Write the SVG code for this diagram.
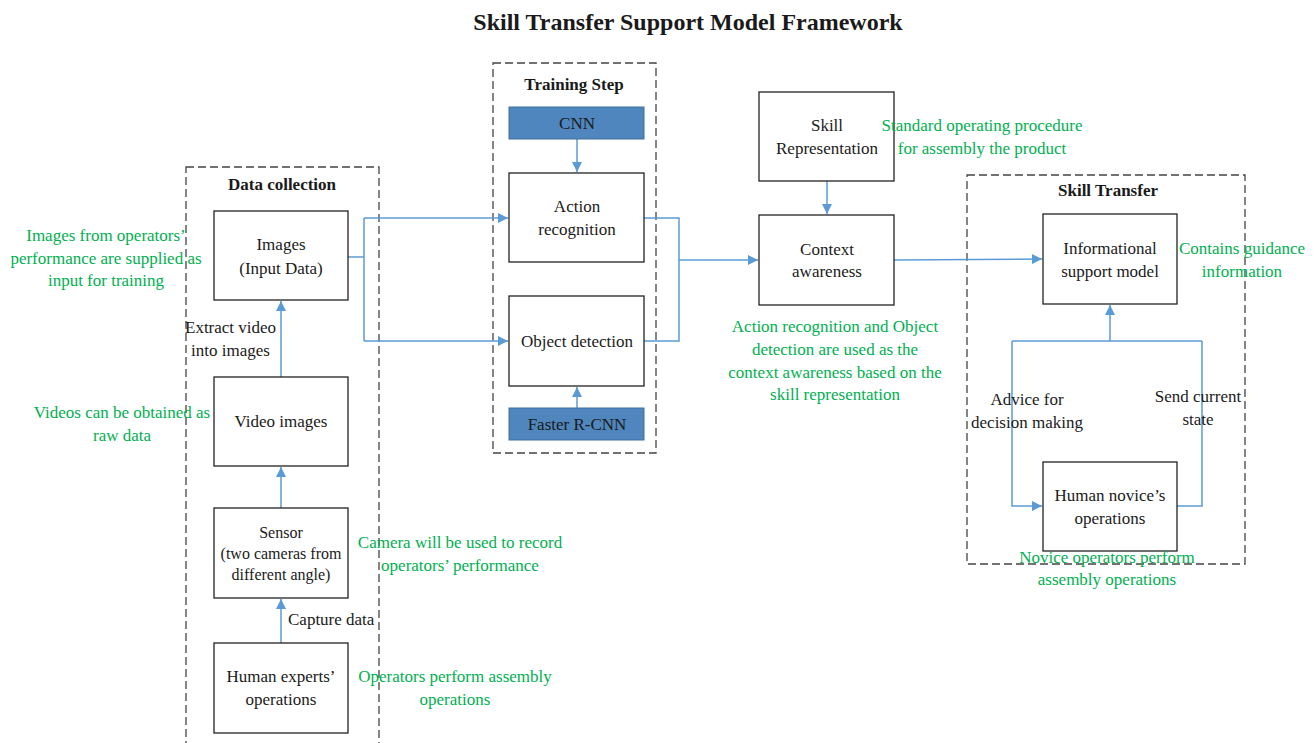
<svg xmlns="http://www.w3.org/2000/svg" width="1316" height="743" viewBox="0 0 1316 743">
  <style>
    text { font-family: "Liberation Serif", "Times New Roman", serif; font-size: 17px; fill: #1a1a1a; text-anchor: middle; }
    .title { font-size: 24px; font-weight: bold; }
    .head { font-size: 17px; font-weight: bold; }
    .note { fill: #00B050; }
    .small { font-size: 16px; }
    .left { text-anchor: start; }
    .box { fill: #ffffff; stroke: #222222; stroke-width: 1.3; }
    .model { fill: #4F86BD; stroke: #3E6F9F; stroke-width: 1; }
    .frame { fill: none; stroke: #444444; stroke-width: 1.3; stroke-dasharray: 8 4; }
    .link { fill: none; stroke: #5B9BD5; stroke-width: 1.5; }
  </style>
  <defs>
    <marker id="arrow" viewBox="0 0 10 10" refX="10" refY="5" markerWidth="10" markerHeight="10" markerUnits="userSpaceOnUse" orient="auto">
      <path d="M0,0 L10,5 L0,10 z" fill="#5B9BD5"/>
    </marker>
  </defs>
  <rect width="1316" height="743" fill="#ffffff"/>

  <text class="title" x="688" y="30">Skill Transfer Support Model Framework</text>

  <!-- grouping frames -->
  <g id="frames">
    <rect class="frame" x="186" y="167" width="193" height="590"/>
    <rect class="frame" x="493" y="63" width="163" height="390"/>
    <rect class="frame" x="967" y="175" width="278" height="389"/>
    <text class="head" x="282" y="190">Data collection</text>
    <text class="head" x="574" y="90">Training Step</text>
    <text class="head" x="1108" y="196">Skill Transfer</text>
  </g>

  <!-- connectors -->
  <g id="connectors">
    <line class="link" x1="281" y1="643" x2="281" y2="599" marker-end="url(#arrow)"/>
    <line class="link" x1="281" y1="508" x2="281" y2="467" marker-end="url(#arrow)"/>
    <line class="link" x1="281" y1="377" x2="281" y2="301" marker-end="url(#arrow)"/>
    <polyline class="link" points="348,257 364,257"/>
    <polyline class="link" points="364,218 364,341"/>
    <polyline class="link" points="364,218 508,218" marker-end="url(#arrow)"/>
    <polyline class="link" points="364,341 508,341" marker-end="url(#arrow)"/>
    <line class="link" x1="577" y1="139" x2="577" y2="172" marker-end="url(#arrow)"/>
    <line class="link" x1="577" y1="408" x2="577" y2="387" marker-end="url(#arrow)"/>
    <polyline class="link" points="644,218 679,218 679,341 644,341"/>
    <line class="link" x1="679" y1="260" x2="758" y2="260" marker-end="url(#arrow)"/>
    <line class="link" x1="827" y1="181" x2="827" y2="214" marker-end="url(#arrow)"/>
    <line class="link" x1="894" y1="260" x2="1042" y2="259" marker-end="url(#arrow)"/>
    <line class="link" x1="1110" y1="341" x2="1110" y2="305" marker-end="url(#arrow)"/>
    <polyline class="link" points="1012,341 1202,341"/>
    <polyline class="link" points="1012,341 1012,506 1042,506" marker-end="url(#arrow)"/>
    <polyline class="link" points="1177,506 1202,506 1202,341"/>
  </g>

  <!-- data collection nodes -->
  <g id="images">
    <rect class="box" x="214" y="211" width="134" height="89"/>
    <text x="281" y="250">Images</text>
    <text x="281" y="274">(Input Data)</text>
  </g>
  <g id="video-images">
    <rect class="box" x="214" y="377" width="134" height="89"/>
    <text x="281" y="427">Video images</text>
  </g>
  <g id="sensor">
    <rect class="box" x="214" y="508" width="134" height="90"/>
    <text class="small" x="281" y="538">Sensor</text>
    <text class="small" x="281" y="559">(two cameras from</text>
    <text class="small" x="281" y="580">different angle)</text>
  </g>
  <g id="human-experts">
    <rect class="box" x="214" y="643" width="134" height="90"/>
    <text x="281" y="682">Human experts’</text>
    <text x="281" y="705">operations</text>
  </g>

  <!-- training step nodes -->
  <g id="cnn">
    <rect class="model" x="509" y="107" width="135" height="32"/>
    <text x="577" y="129">CNN</text>
  </g>
  <g id="action-recognition">
    <rect class="box" x="509" y="173" width="135" height="89"/>
    <text x="577" y="212">Action</text>
    <text x="577" y="235">recognition</text>
  </g>
  <g id="object-detection">
    <rect class="box" x="509" y="296" width="135" height="90"/>
    <text x="577" y="347">Object detection</text>
  </g>
  <g id="faster-rcnn">
    <rect class="model" x="509" y="408" width="135" height="32"/>
    <text x="577" y="430">Faster R-CNN</text>
  </g>

  <!-- skill representation and context -->
  <g id="skill-representation">
    <rect class="box" x="759" y="92" width="135" height="89"/>
    <text x="827" y="131">Skill</text>
    <text x="827" y="154">Representation</text>
  </g>
  <g id="context-awareness">
    <rect class="box" x="759" y="215" width="135" height="90"/>
    <text x="827" y="255">Context</text>
    <text x="827" y="277">awareness</text>
  </g>

  <!-- skill transfer nodes -->
  <g id="informational-support">
    <rect class="box" x="1043" y="214" width="134" height="90"/>
    <text x="1110" y="254">Informational</text>
    <text x="1110" y="277">support model</text>
  </g>
  <g id="human-novice">
    <rect class="box" x="1043" y="462" width="134" height="89"/>
    <text x="1110" y="501">Human novice’s</text>
    <text x="1110" y="524">operations</text>
  </g>

  <!-- connector labels -->
  <g id="labels">
    <text class="left" x="185" y="333">Extract video</text>
    <text class="left" x="191" y="356">into images</text>
    <text class="left" x="288" y="625">Capture data</text>
    <text x="1027" y="405">Advice for</text>
    <text x="1027" y="428">decision making</text>
    <text x="1198" y="402">Send current</text>
    <text x="1198" y="425">state</text>
  </g>

  <!-- annotations -->
  <g id="notes">
    <text class="note" x="106" y="241">Images from operators’</text>
    <text class="note" x="106" y="264">performance are supplied as</text>
    <text class="note" x="106" y="286">input for training</text>
    <text class="note" x="122" y="418">Videos can be obtained as</text>
    <text class="note" x="122" y="441">raw data</text>
    <text class="note" x="460" y="548">Camera will be used to record</text>
    <text class="note" x="460" y="571">operators’ performance</text>
    <text class="note" x="455" y="682">Operators perform assembly</text>
    <text class="note" x="455" y="705">operations</text>
    <text class="note" x="982" y="131">Standard operating procedure</text>
    <text class="note" x="982" y="154">for assembly the product</text>
    <text class="note" x="835" y="332">Action recognition and Object</text>
    <text class="note" x="835" y="355">detection are used as the</text>
    <text class="note" x="835" y="378">context awareness based on the</text>
    <text class="note" x="835" y="400">skill representation</text>
    <text class="note" x="1242" y="254">Contains guidance</text>
    <text class="note" x="1242" y="277">information</text>
    <text class="note" x="1107" y="563">Novice operators perform</text>
    <text class="note" x="1107" y="585">assembly operations</text>
  </g>
</svg>
